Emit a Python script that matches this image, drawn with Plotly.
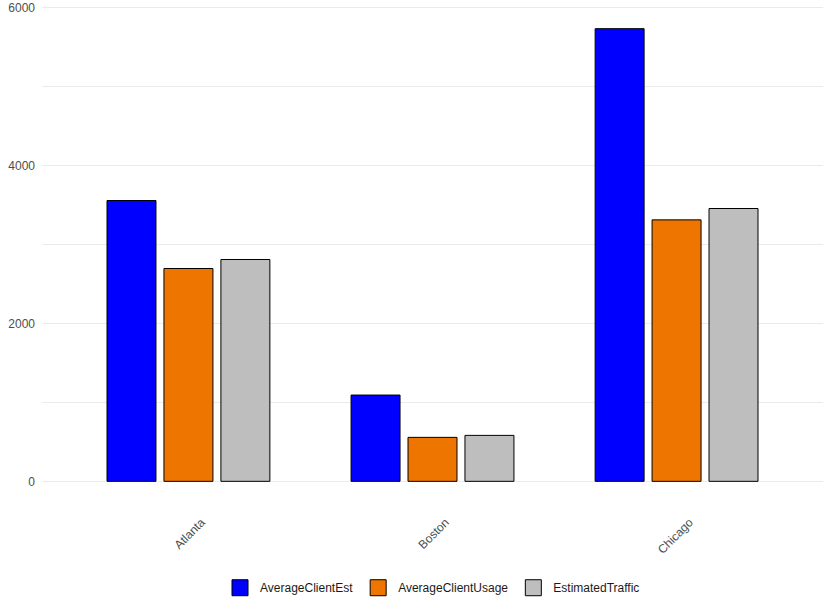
import plotly.graph_objects as go

cities = ["Atlanta", "Boston", "Chicago"]
average_client_est = [3557, 1093, 5734]
average_client_usage = [2696, 557, 3312]
estimated_traffic = [2810, 582, 3456]

series_names = ["AverageClientEst", "AverageClientUsage", "EstimatedTraffic"]
series_values = [average_client_est, average_client_usage, estimated_traffic]
series_colors = ["#0000FF", "#EE7600", "#BEBEBE"]

fig = go.Figure()
for name, vals, col in zip(series_names, series_values, series_colors):
    fig.add_trace(go.Bar(
        x=cities, y=vals, name=name, showlegend=False,
        marker=dict(color=col, line=dict(color="black", width=1)),
    ))
# legend entries with larger square keys
for name, col in zip(series_names, series_colors):
    fig.add_trace(go.Scatter(
        x=[None], y=[None], mode="markers", name=name, showlegend=True,
        marker=dict(symbol="square", size=16, color=col,
                    line=dict(color="black", width=1)),
    ))

fig.update_layout(
    width=831, height=612,
    margin=dict(l=42, r=8, t=6, b=108, pad=0, autoexpand=False),
    paper_bgcolor="white", plot_bgcolor="white",
    barmode="group", bargap=0.30, bargroupgap=0.14,
    font=dict(family="Liberation Sans, Arial, sans-serif", size=12, color="#1a1a1a"),
    legend=dict(orientation="h", x=0.50, xanchor="center", y=-0.139, yanchor="top",
                font=dict(size=12, color="#1a1a1a"), itemwidth=30,
                bgcolor="rgba(0,0,0,0)"),
    xaxis=dict(
        type="category", range=[-0.6, 2.6], automargin=False,
        showgrid=False, zeroline=False, showline=False, ticks="",
        tickangle=-45, tickfont=dict(size=12, color="#4d4d4d"),
        ticklabelshift=13, ticklabelstandoff=8,
    ),
    yaxis=dict(
        range=[-287, 6021], tickvals=[0, 2000, 4000, 6000], automargin=False,
        showgrid=True, gridcolor="#EBEBEB", gridwidth=1,
        minor=dict(tickvals=[1000, 3000, 5000], showgrid=True,
                   gridcolor="#EBEBEB", gridwidth=0.6),
        zeroline=False, showline=False, ticks="",
        tickfont=dict(size=12, color="#4d4d4d"), ticklabelstandoff=6,
    ),
)

fig.write_html("out.html", config={"displayModeBar": False},
               post_script="document.body.style.margin='0';")
